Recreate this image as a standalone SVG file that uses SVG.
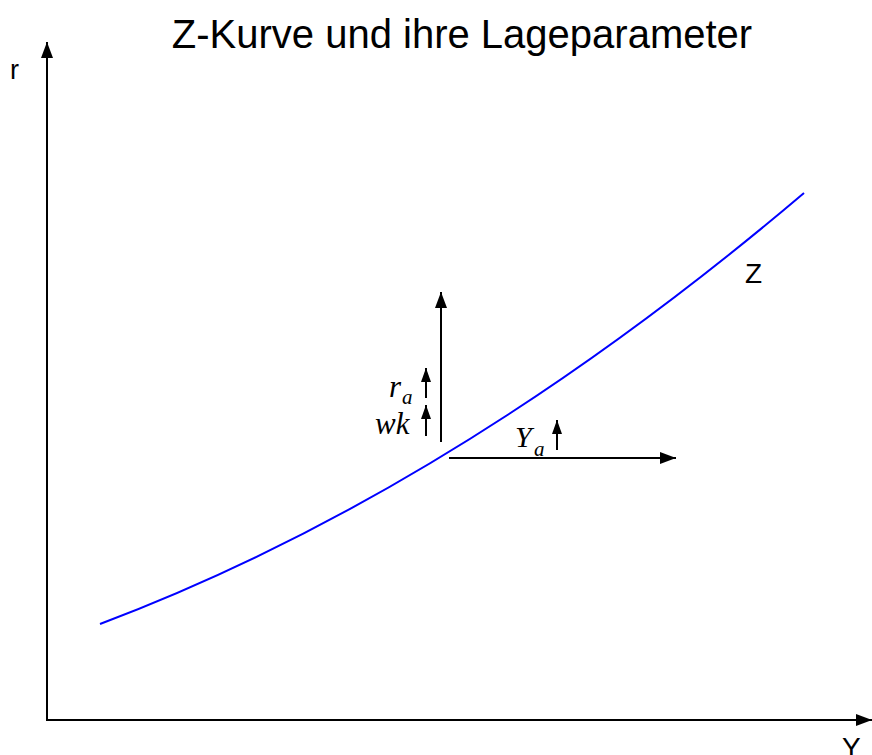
<svg xmlns="http://www.w3.org/2000/svg" width="872" height="755" viewBox="0 0 872 755">
<style>
.ax{stroke:#000;stroke-width:2;fill:none}
.curve{stroke:#0000ff;stroke-width:2;fill:none}
.lbl{font-family:"Liberation Sans","DejaVu Sans",sans-serif;fill:#000}
.math{font-family:"Liberation Serif","DejaVu Serif",serif;font-style:italic;fill:#000}
</style>
<defs>
<marker id="big" markerUnits="userSpaceOnUse" markerWidth="18" markerHeight="12" refX="16" refY="6" orient="auto">
<path d="M0,0 L16,6 L0,12 Z" fill="#000"/>
</marker>
<marker id="small" markerUnits="userSpaceOnUse" markerWidth="15" markerHeight="10" refX="14" refY="5" orient="auto">
<path d="M0,0 L14,5 L0,10 Z" fill="#000"/>
</marker>
</defs>
<text class="lbl" x="462" y="48" font-size="40" text-anchor="middle">Z-Kurve und ihre Lageparameter</text>
<g id="connectors">
<line id="y-axis" class="ax" x1="47" y1="721" x2="47" y2="42" marker-end="url(#big)"/>
<line id="x-axis" class="ax" x1="46" y1="720" x2="872" y2="720" marker-end="url(#big)"/>
<line id="r-shift" class="ax" x1="441" y1="442" x2="441" y2="292" marker-end="url(#big)"/>
<line id="y-shift" class="ax" x1="449" y1="458" x2="676" y2="458" marker-end="url(#big)"/>
<line id="ra-arrow" class="ax" x1="426" y1="398" x2="426" y2="368" marker-end="url(#small)"/>
<line id="wk-arrow" class="ax" x1="426" y1="436" x2="426" y2="405" marker-end="url(#small)"/>
<line id="ya-arrow" class="ax" x1="557" y1="450" x2="557" y2="420" marker-end="url(#small)"/>
</g>
<g id="z-curve">
<path class="curve" d="M100,624 Q452,491.5 804,193"/>
<text class="lbl" x="745" y="283" font-size="28">Z</text>
</g>
<g id="axis-labels">
<text class="lbl" x="10" y="79" font-size="27">r</text>
<text class="lbl" x="842" y="757" font-size="28">Y</text>
</g>
<g id="label-ra">
<text class="math" x="389" y="397" font-size="31">r</text>
<text class="math" x="402" y="404" font-size="21">a</text>
</g>
<g id="label-wk">
<text class="math" x="375" y="434" font-size="31">wk</text>
</g>
<g id="label-ya">
<text class="math" x="515" y="447" font-size="30">Y</text>
<text class="math" x="534" y="456" font-size="21">a</text>
</g>
</svg>
